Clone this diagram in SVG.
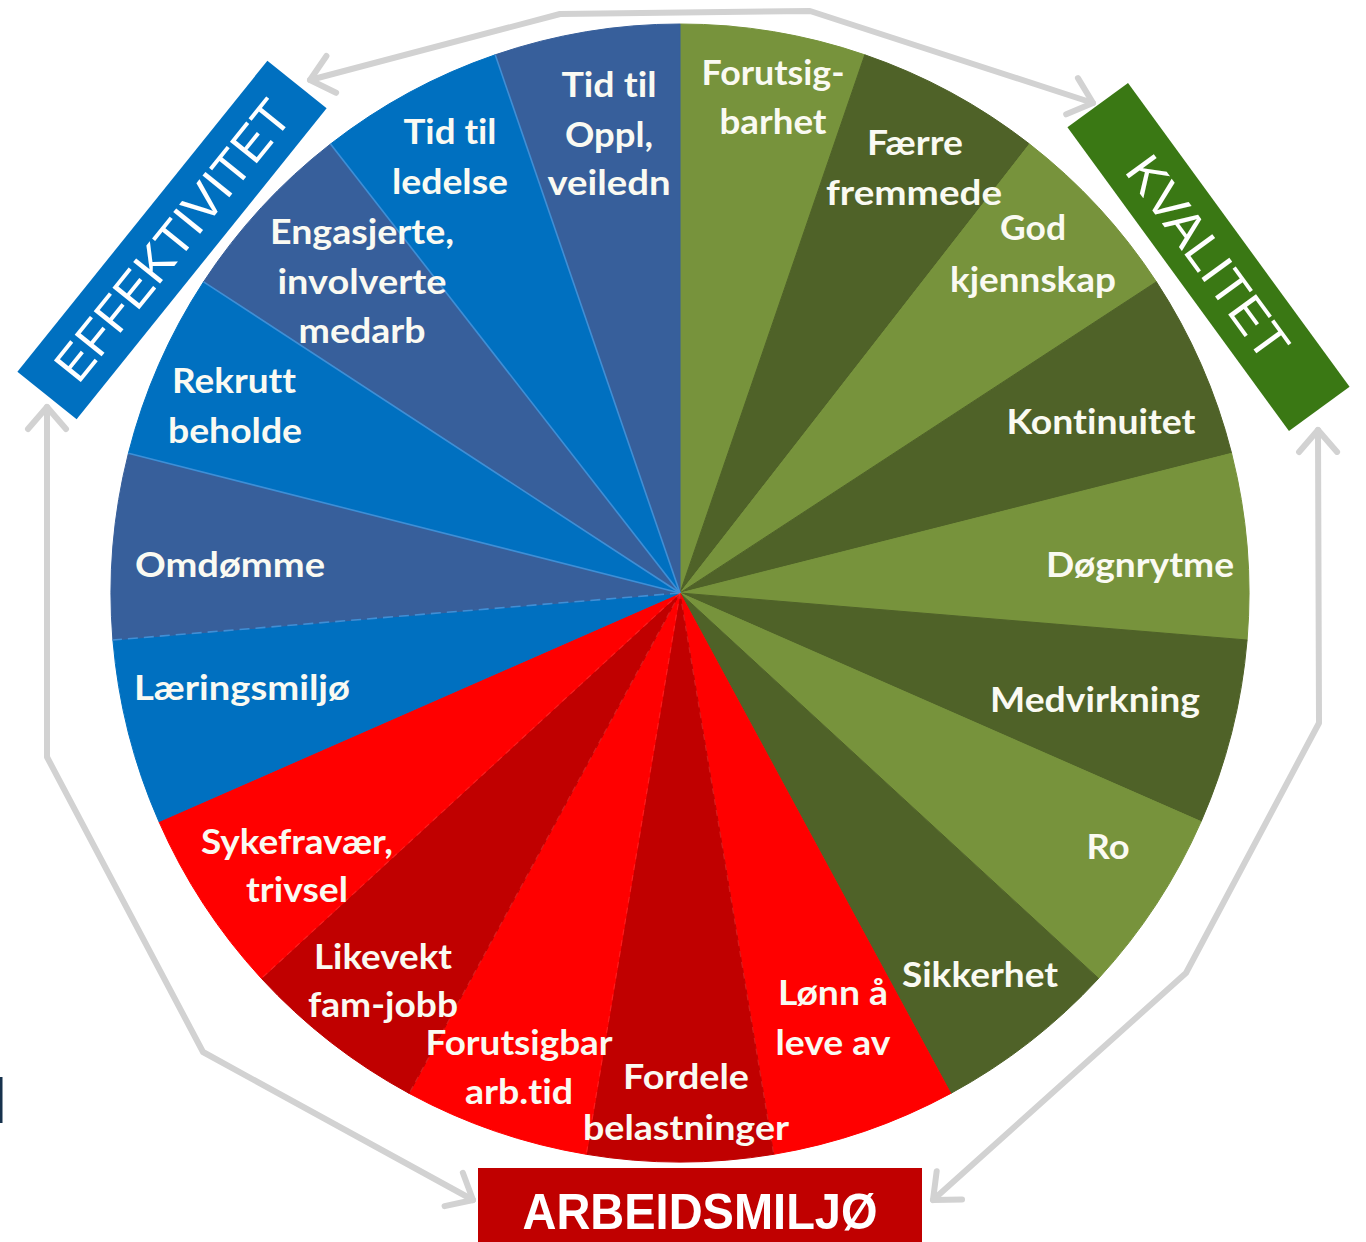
<svg xmlns="http://www.w3.org/2000/svg" width="1366" height="1242" viewBox="0 0 1366 1242">
<style>
.lg{fill:#77933C;stroke:#77933C;stroke-width:1}
.dg{fill:#4F6228;stroke:#4F6228;stroke-width:1}
.rd{fill:#FF0000;stroke:#FF0000;stroke-width:1}
.dr{fill:#C00000;stroke:#C00000;stroke-width:1}
.bl{fill:#0070C0;stroke:#0070C0;stroke-width:1}
.sl{fill:#375F9B;stroke:#375F9B;stroke-width:1}
.lbl{font-family:Lato,"Open Sans",sans-serif;font-weight:bold;font-size:34px;fill:#FAFAF2;text-anchor:middle;font-variant-ligatures:none;font-feature-settings:"liga" 0,"clig" 0,"dlig" 0}
.hd{font-family:"Liberation Sans",Arial,sans-serif;font-size:50px;fill:#FFFFFF;text-anchor:middle}
.conn{fill:none;stroke:#D2D2D2;stroke-width:6;stroke-linejoin:round;stroke-linecap:round}
.seam{stroke:#3F8FD6;stroke-width:1.6}
.seamr{stroke:#FF5050;stroke-width:1.2;stroke-dasharray:6 5;opacity:0.35}
</style>
<defs>
<marker id="chev" markerUnits="userSpaceOnUse" orient="auto-start-reverse" refX="0" refY="0" markerWidth="40" markerHeight="40" overflow="visible">
<path d="M-22,-19 L0,0 L-22,19" fill="none" stroke="#D2D2D2" stroke-width="6" stroke-linecap="round" stroke-linejoin="round"/>
</marker>
</defs>
<rect width="1366" height="1242" fill="#FFFFFF"/>
<rect x="0" y="1077" width="2.5" height="46" fill="#17324D"/>

<g id="connectors">
<polyline class="conn" points="310,80 560,14 810,11 1093,103" marker-start="url(#chev)" marker-end="url(#chev)"/>
<polyline class="conn" points="47,407 47,757 203,1052 473,1200" marker-start="url(#chev)" marker-end="url(#chev)"/>
<polyline class="conn" points="1318,430 1319,723 1186,973 933,1200" marker-start="url(#chev)" marker-end="url(#chev)"/>
</g>

<g id="wheel">
<path class="lg" d="M680,593 L680,24 A569,569 0 0 1 864.8,54.8 Z"/>
<path class="dg" d="M680,593 L864.8,54.8 A569,569 0 0 1 1029.5,144.0 Z"/>
<path class="lg" d="M680,593 L1029.5,144.0 A569,569 0 0 1 1156.4,281.8 Z"/>
<path class="dg" d="M680,593 L1156.4,281.8 A569,569 0 0 1 1231.6,453.3 Z"/>
<path class="lg" d="M680,593 L1231.6,453.3 A569,569 0 0 1 1247.1,640.0 Z"/>
<path class="dg" d="M680,593 L1247.1,640.0 A569,569 0 0 1 1201.1,821.6 Z"/>
<path class="lg" d="M680,593 L1201.1,821.6 A569,569 0 0 1 1098.6,978.4 Z"/>
<path class="dg" d="M680,593 L1098.6,978.4 A569,569 0 0 1 950.8,1093.4 Z"/>
<path class="rd" d="M680,593 L950.8,1093.4 A569,569 0 0 1 773.7,1154.3 Z"/>
<path class="dr" d="M680,593 L773.7,1154.3 A569,569 0 0 1 586.3,1154.3 Z"/>
<path class="rd" d="M680,593 L586.3,1154.3 A569,569 0 0 1 409.2,1093.4 Z"/>
<path class="dr" d="M680,593 L409.2,1093.4 A569,569 0 0 1 261.4,978.4 Z"/>
<path class="rd" d="M680,593 L261.4,978.4 A569,569 0 0 1 158.9,821.6 Z"/>
<path class="bl" d="M680,593 L158.9,821.6 A569,569 0 0 1 112.9,640.0 Z"/>
<path class="sl" d="M680,593 L112.9,640.0 A569,569 0 0 1 128.4,453.3 Z"/>
<path class="bl" d="M680,593 L128.4,453.3 A569,569 0 0 1 203.6,281.8 Z"/>
<path class="sl" d="M680,593 L203.6,281.8 A569,569 0 0 1 330.5,144.0 Z"/>
<path class="bl" d="M680,593 L330.5,144.0 A569,569 0 0 1 495.2,54.8 Z"/>
<path class="sl" d="M680,593 L495.2,54.8 A569,569 0 0 1 680,24 Z"/>
<line class="seam" x1="680" y1="593" x2="128.4" y2="453.3"/>
<line class="seam" x1="680" y1="593" x2="203.6" y2="281.8"/>
<line class="seam" x1="680" y1="593" x2="330.5" y2="144.0"/>
<line class="seam" x1="680" y1="593" x2="495.2" y2="54.8"/>
<line class="seam" x1="680" y1="593" x2="112.9" y2="640.0" stroke-dasharray="10 6" stroke="#6AA6DC"/>
<line class="seamr" x1="680" y1="593" x2="773.7" y2="1154.3"/>
<line class="seamr" x1="680" y1="593" x2="586.3" y2="1154.3"/>
<line class="seamr" x1="680" y1="593" x2="409.2" y2="1093.4"/>
<line class="seamr" x1="680" y1="593" x2="261.4" y2="978.4"/>
</g>

<g id="seg-forutsigbarhet"><text class="lbl" x="773" y="85" textLength="143" lengthAdjust="spacingAndGlyphs">Forutsig-</text><text class="lbl" x="773" y="134" textLength="107" lengthAdjust="spacingAndGlyphs">barhet</text></g>
<g id="seg-faerre"><text class="lbl" x="915" y="155" textLength="96" lengthAdjust="spacingAndGlyphs">Færre</text><text class="lbl" x="914" y="205" textLength="176" lengthAdjust="spacingAndGlyphs">fremmede</text></g>
<g id="seg-god"><text class="lbl" x="1033" y="240" textLength="66" lengthAdjust="spacingAndGlyphs">God</text><text class="lbl" x="1033" y="292" textLength="166" lengthAdjust="spacingAndGlyphs">kjennskap</text></g>
<g id="seg-kontinuitet"><text class="lbl" x="1101" y="434" textLength="189" lengthAdjust="spacingAndGlyphs">Kontinuitet</text></g>
<g id="seg-dognrytme"><text class="lbl" x="1140" y="577" textLength="188" lengthAdjust="spacingAndGlyphs">Døgnrytme</text></g>
<g id="seg-medvirkning"><text class="lbl" x="1095" y="712" textLength="210" lengthAdjust="spacingAndGlyphs">Medvirkning</text></g>
<g id="seg-ro"><text class="lbl" x="1108" y="859" textLength="43" lengthAdjust="spacingAndGlyphs">Ro</text></g>
<g id="seg-sikkerhet"><text class="lbl" x="980" y="987" textLength="156" lengthAdjust="spacingAndGlyphs">Sikkerhet</text></g>
<g id="seg-lonn"><text class="lbl" x="833" y="1005" textLength="110" lengthAdjust="spacingAndGlyphs">Lønn å</text><text class="lbl" x="833" y="1055" textLength="115" lengthAdjust="spacingAndGlyphs">leve av</text></g>
<g id="seg-fordele"><text class="lbl" x="686" y="1089" textLength="126" lengthAdjust="spacingAndGlyphs">Fordele</text><text class="lbl" x="686" y="1140" textLength="206" lengthAdjust="spacingAndGlyphs">belastninger</text></g>
<g id="seg-forutsigbar"><text class="lbl" x="519" y="1055" textLength="187" lengthAdjust="spacingAndGlyphs">Forutsigbar</text><text class="lbl" x="519" y="1104" textLength="108" lengthAdjust="spacingAndGlyphs">arb.tid</text></g>
<g id="seg-likevekt"><text class="lbl" x="383" y="969" textLength="138" lengthAdjust="spacingAndGlyphs">Likevekt</text><text class="lbl" x="383" y="1017" textLength="150" lengthAdjust="spacingAndGlyphs">fam-jobb</text></g>
<g id="seg-sykefravaer"><text class="lbl" x="297" y="854" textLength="192" lengthAdjust="spacingAndGlyphs">Sykefravær,</text><text class="lbl" x="297" y="902" textLength="102" lengthAdjust="spacingAndGlyphs">trivsel</text></g>
<g id="seg-laeringsmiljo"><text class="lbl" x="242" y="700" textLength="216" lengthAdjust="spacingAndGlyphs">Læringsmiljø</text></g>
<g id="seg-omdomme"><text class="lbl" x="230" y="577" textLength="190" lengthAdjust="spacingAndGlyphs">Omdømme</text></g>
<g id="seg-rekrutt"><text class="lbl" x="234" y="393" textLength="124" lengthAdjust="spacingAndGlyphs">Rekrutt</text><text class="lbl" x="235" y="443" textLength="134" lengthAdjust="spacingAndGlyphs">beholde</text></g>
<g id="seg-engasjerte"><text class="lbl" x="362" y="244" textLength="184" lengthAdjust="spacingAndGlyphs">Engasjerte,</text><text class="lbl" x="362" y="294" textLength="169" lengthAdjust="spacingAndGlyphs">involverte</text><text class="lbl" x="362" y="343" textLength="127" lengthAdjust="spacingAndGlyphs">medarb</text></g>
<g id="seg-ledelse"><text class="lbl" x="450" y="144" textLength="93" lengthAdjust="spacingAndGlyphs">Tid til</text><text class="lbl" x="450" y="194" textLength="116" lengthAdjust="spacingAndGlyphs">ledelse</text></g>
<g id="seg-oppl"><text class="lbl" x="609" y="97" textLength="95" lengthAdjust="spacingAndGlyphs">Tid til</text><text class="lbl" x="609" y="147" textLength="88" lengthAdjust="spacingAndGlyphs">Oppl,</text><text class="lbl" x="609" y="195" textLength="123" lengthAdjust="spacingAndGlyphs">veiledn</text></g>

<g id="effektivitet" transform="rotate(-51.2 172 240)">
<rect x="-27.5" y="202" width="399" height="76" fill="#0070C0"/>
<text class="hd" x="172" y="258" textLength="344" lengthAdjust="spacingAndGlyphs">EFFEKTIVITET</text>
</g>
<g id="kvalitet" transform="rotate(53.9 1208.5 257)">
<rect x="1020.5" y="219.5" width="376" height="75" fill="#3A7814"/>
<text class="hd" x="1208.5" y="275" textLength="239" lengthAdjust="spacingAndGlyphs">KVALITET</text>
</g>
<g id="arbeidsmiljo">
<rect x="478" y="1168" width="444" height="80" fill="#C00000"/>
<text class="hd" x="700" y="1229" font-weight="bold" font-size="52" textLength="355" lengthAdjust="spacingAndGlyphs">ARBEIDSMILJØ</text>
</g>
</svg>
